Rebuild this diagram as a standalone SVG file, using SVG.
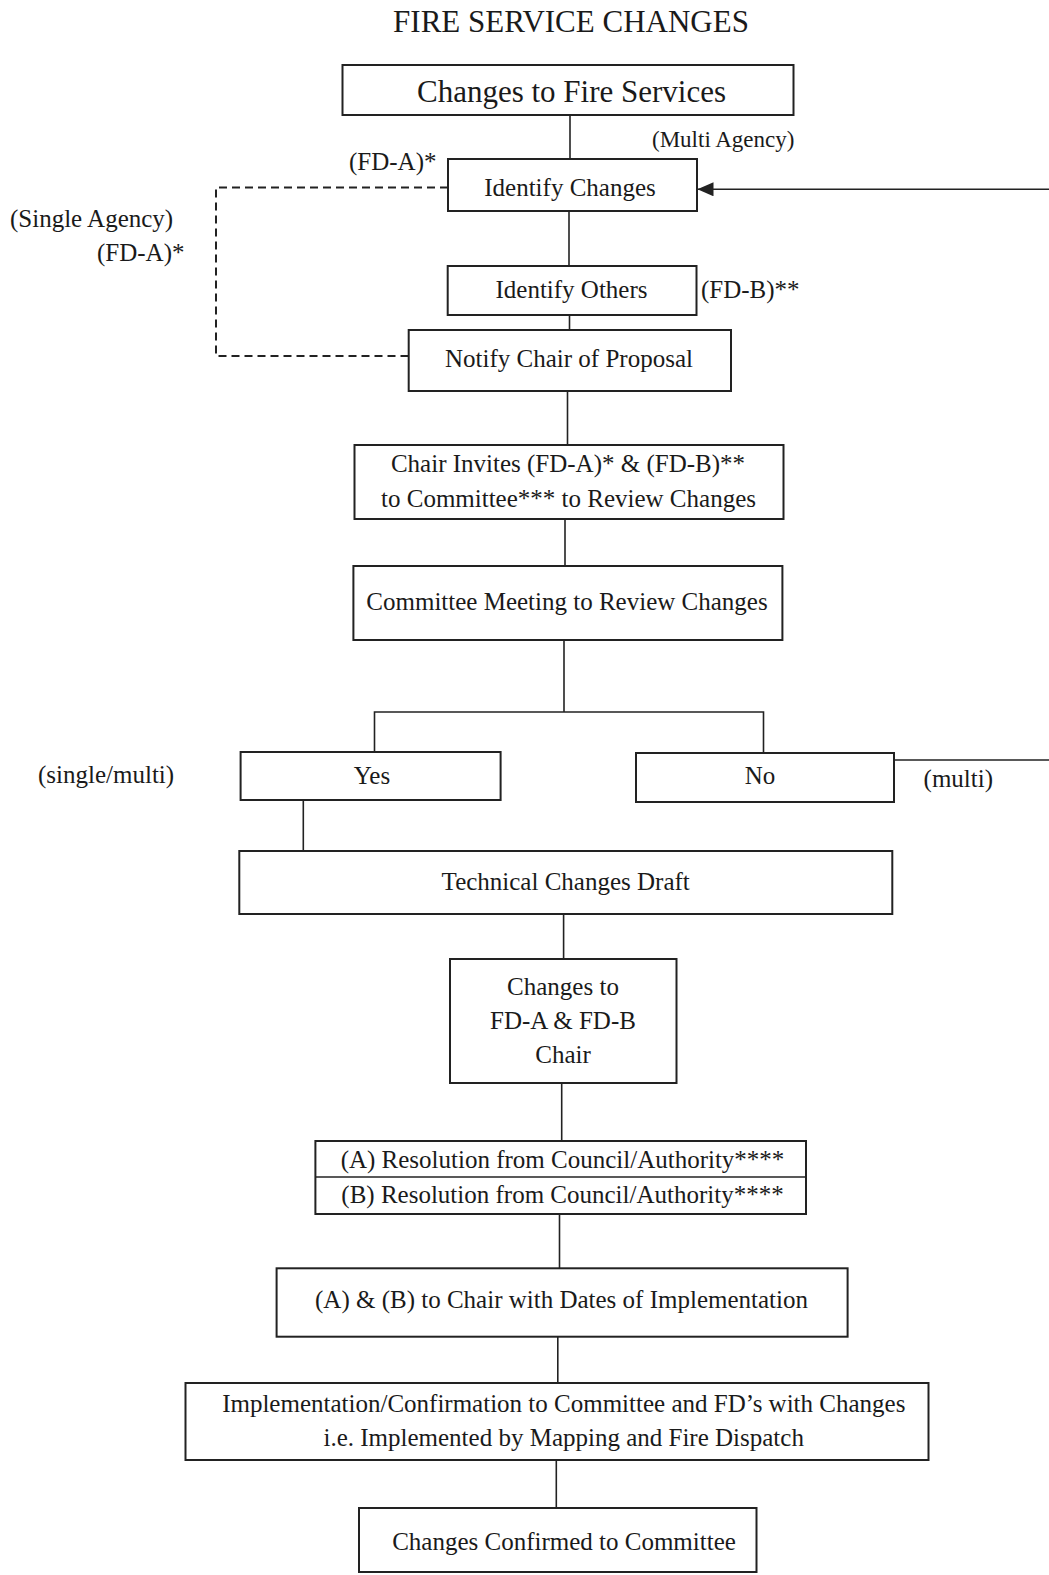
<svg xmlns="http://www.w3.org/2000/svg" width="1049" height="1575" viewBox="0 0 1049 1575">
<defs>
<style>
.box{fill:#fff;stroke:#222;stroke-width:2}
.ln{fill:none;stroke:#222;stroke-width:1.6}
.dash{fill:none;stroke:#222;stroke-width:2;stroke-dasharray:8 5}
text{font-family:"Liberation Serif","Times New Roman",serif;fill:#1a1a1a;font-size:25px}
.c{text-anchor:middle}
.big{font-size:31px}
.sm{font-size:23px}
</style>
<marker id="arr" markerWidth="16" markerHeight="14" refX="16" refY="7" orient="auto" markerUnits="userSpaceOnUse">
<path d="M0,0 L16,7 L0,14 Z" fill="#222"/>
</marker>
</defs>
<rect width="1049" height="1575" fill="#fff"/>
<text class="c big" x="571" y="32">FIRE SERVICE CHANGES</text>

<g id="connectors">
<line class="ln" x1="570" y1="115" x2="570" y2="159"/>
<line class="ln" x1="569" y1="211" x2="569" y2="266"/>
<line class="ln" x1="569.5" y1="315" x2="569.5" y2="330"/>
<line class="ln" x1="567.5" y1="391" x2="567.5" y2="445"/>
<line class="ln" x1="565" y1="519" x2="565" y2="566"/>
<polyline class="ln" points="564,640 564,712"/>
<polyline class="ln" points="374.5,752 374.5,712 763.5,712 763.5,753"/>
<line class="ln" x1="303.3" y1="800" x2="303.3" y2="851"/>
<line class="ln" x1="563.6" y1="914" x2="563.6" y2="959"/>
<line class="ln" x1="561.7" y1="1083" x2="561.7" y2="1141"/>
<line class="ln" x1="559.5" y1="1214" x2="559.5" y2="1268"/>
<line class="ln" x1="557.8" y1="1337" x2="557.8" y2="1383"/>
<line class="ln" x1="556.3" y1="1460" x2="556.3" y2="1508"/>
<polyline class="dash" points="448,187.5 216,187.5 216,356 408.7,356"/>
<line class="ln" x1="894" y1="760" x2="1049" y2="760"/>
<line class="ln" x1="1049" y1="189.3" x2="697.5" y2="189.3" marker-end="url(#arr)"/>
</g>

<g id="n-changes-fire"><rect class="box" x="342.5" y="65" width="451" height="50"/><text class="c big" x="571.5" y="102">Changes to Fire Services</text></g>
<g id="n-identify-changes"><rect class="box" x="448" y="159" width="249" height="52"/><text class="c" x="570" y="196">Identify Changes</text></g>
<g id="n-identify-others"><rect class="box" x="447.7" y="266" width="248.8" height="49"/><text class="c" x="571.5" y="298">Identify Others</text></g>
<g id="n-notify"><rect class="box" x="408.7" y="330" width="322.3" height="61"/><text class="c" x="569" y="367">Notify Chair of Proposal</text></g>
<g id="n-chair-invites"><rect class="box" x="354.5" y="445" width="429" height="74"/><text class="c" x="568" y="472">Chair Invites (FD-A)* &amp; (FD-B)**</text><text class="c" x="568.5" y="507">to Committee*** to Review Changes</text></g>
<g id="n-committee"><rect class="box" x="353.4" y="566" width="429" height="74"/><text class="c" x="567" y="610">Committee Meeting to Review Changes</text></g>
<g id="n-yes"><rect class="box" x="240.6" y="752" width="260" height="48"/><text class="c" x="372" y="784">Yes</text></g>
<g id="n-no"><rect class="box" x="636" y="753" width="258" height="49"/><text class="c" x="760" y="784">No</text></g>
<g id="n-technical"><rect class="box" x="239.3" y="851" width="653" height="63"/><text class="c" x="565.7" y="890">Technical Changes Draft</text></g>
<g id="n-changes-fd"><rect class="box" x="450" y="959" width="226.5" height="124"/><text class="c" x="563" y="995">Changes to</text><text class="c" x="563" y="1029">FD-A &amp; FD-B</text><text class="c" x="563" y="1063">Chair</text></g>
<g id="n-resolution"><rect class="box" x="315.4" y="1141" width="490.6" height="73"/><line class="ln" x1="315.4" y1="1177" x2="806" y2="1177"/><text class="c" x="562.5" y="1168">(A) Resolution from Council/Authority****</text><text class="c" x="562.5" y="1203">(B) Resolution from Council/Authority****</text></g>
<g id="n-dates"><rect class="box" x="276.6" y="1268.3" width="571" height="68.4"/><text class="c" x="561.5" y="1308">(A) &amp; (B) to Chair with Dates of Implementation</text></g>
<g id="n-implementation"><rect class="box" x="185.5" y="1383" width="743" height="77"/><text class="c" x="563.8" y="1412">Implementation/Confirmation to Committee and FD’s with Changes</text><text class="c" x="563.7" y="1446">i.e. Implemented by Mapping and Fire Dispatch</text></g>
<g id="n-confirmed"><rect class="box" x="359" y="1508" width="397.5" height="64"/><text class="c" x="564" y="1550">Changes Confirmed to Committee</text></g>

<g id="labels">
<text class="sm" x="652" y="147">(Multi Agency)</text>
<text x="349" y="170">(FD-A)*</text>
<text x="701" y="298">(FD-B)**</text>
<text x="10" y="227">(Single Agency)</text>
<text x="97" y="261">(FD-A)*</text>
<text x="38" y="783">(single/multi)</text>
<text x="923.6" y="787">(multi)</text>
</g>
</svg>
